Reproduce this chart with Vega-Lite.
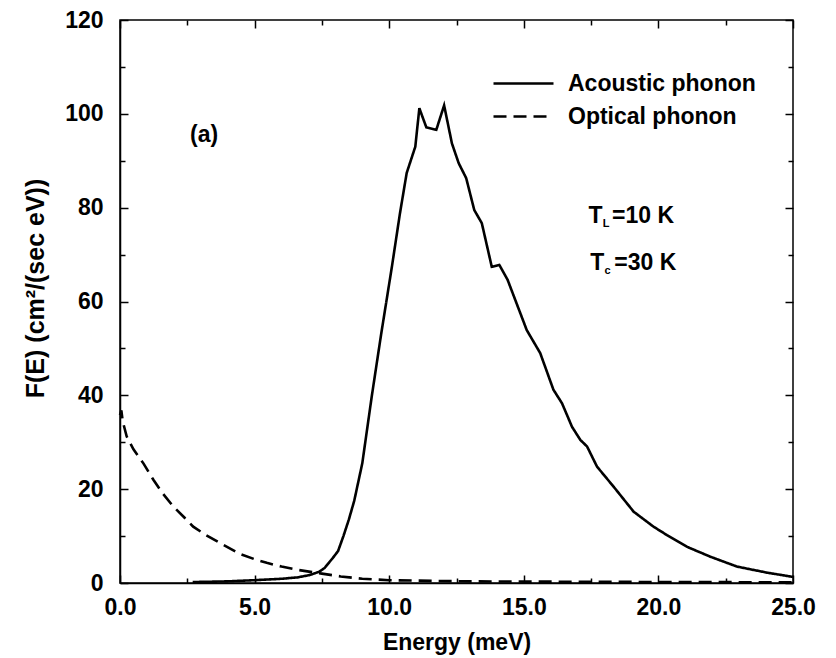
{
  "$schema": "https://vega.github.io/schema/vega-lite/v6.json",
  "autosize": "none",
  "width": 673,
  "height": 563,
  "padding": {"left": 120, "top": 20, "right": 43, "bottom": 75},
  "background": "white",
  "config": {
    "view": {"stroke": "black", "strokeWidth": 1.5},
    "font": "Liberation Sans",
    "axis": {
      "grid": false,
      "domainColor": "black",
      "domainWidth": 1.5,
      "tickColor": "black",
      "tickWidth": 1.5,
      "labelFont": "Liberation Sans",
      "labelFontWeight": "bold",
      "labelFontSize": 23,
      "labelColor": "black",
      "titleFont": "Liberation Sans",
      "titleFontWeight": "bold",
      "titleFontSize": 23,
      "titleColor": "black"
    },
    "legend": {
      "labelFont": "Liberation Sans",
      "labelFontWeight": "bold",
      "labelFontSize": 23,
      "labelColor": "black"
    }
  },
  "data": {
    "values": [
      {"E": 2.7, "F": 0.2, "series": "Acoustic phonon"},
      {"E": 4.0, "F": 0.35, "series": "Acoustic phonon"},
      {"E": 5.0, "F": 0.6, "series": "Acoustic phonon"},
      {"E": 6.0, "F": 0.9, "series": "Acoustic phonon"},
      {"E": 6.6, "F": 1.2, "series": "Acoustic phonon"},
      {"E": 7.05, "F": 1.7, "series": "Acoustic phonon"},
      {"E": 7.4, "F": 2.4, "series": "Acoustic phonon"},
      {"E": 7.6, "F": 3.2, "series": "Acoustic phonon"},
      {"E": 7.9, "F": 5.3, "series": "Acoustic phonon"},
      {"E": 8.1, "F": 6.8, "series": "Acoustic phonon"},
      {"E": 8.3, "F": 10.0, "series": "Acoustic phonon"},
      {"E": 8.5, "F": 13.5, "series": "Acoustic phonon"},
      {"E": 8.7, "F": 17.5, "series": "Acoustic phonon"},
      {"E": 9.0, "F": 25.5, "series": "Acoustic phonon"},
      {"E": 9.35, "F": 39.7, "series": "Acoustic phonon"},
      {"E": 9.7, "F": 53.0, "series": "Acoustic phonon"},
      {"E": 10.1, "F": 67.4, "series": "Acoustic phonon"},
      {"E": 10.4, "F": 78.8, "series": "Acoustic phonon"},
      {"E": 10.65, "F": 87.4, "series": "Acoustic phonon"},
      {"E": 10.97, "F": 93.0, "series": "Acoustic phonon"},
      {"E": 11.12, "F": 101.2, "series": "Acoustic phonon"},
      {"E": 11.38, "F": 97.1, "series": "Acoustic phonon"},
      {"E": 11.75, "F": 96.6, "series": "Acoustic phonon"},
      {"E": 12.04, "F": 101.8, "series": "Acoustic phonon"},
      {"E": 12.33, "F": 93.7, "series": "Acoustic phonon"},
      {"E": 12.58, "F": 89.5, "series": "Acoustic phonon"},
      {"E": 12.86, "F": 86.3, "series": "Acoustic phonon"},
      {"E": 13.16, "F": 79.5, "series": "Acoustic phonon"},
      {"E": 13.44, "F": 76.7, "series": "Acoustic phonon"},
      {"E": 13.81, "F": 67.4, "series": "Acoustic phonon"},
      {"E": 14.09, "F": 67.8, "series": "Acoustic phonon"},
      {"E": 14.4, "F": 64.6, "series": "Acoustic phonon"},
      {"E": 15.11, "F": 53.9, "series": "Acoustic phonon"},
      {"E": 15.61, "F": 49.0, "series": "Acoustic phonon"},
      {"E": 16.1, "F": 41.2, "series": "Acoustic phonon"},
      {"E": 16.42, "F": 38.3, "series": "Acoustic phonon"},
      {"E": 16.79, "F": 33.3, "series": "Acoustic phonon"},
      {"E": 17.1, "F": 30.5, "series": "Acoustic phonon"},
      {"E": 17.35, "F": 29.1, "series": "Acoustic phonon"},
      {"E": 17.72, "F": 24.8, "series": "Acoustic phonon"},
      {"E": 18.34, "F": 20.5, "series": "Acoustic phonon"},
      {"E": 19.08, "F": 15.2, "series": "Acoustic phonon"},
      {"E": 19.82, "F": 12.0, "series": "Acoustic phonon"},
      {"E": 20.32, "F": 10.2, "series": "Acoustic phonon"},
      {"E": 21.07, "F": 7.7, "series": "Acoustic phonon"},
      {"E": 21.93, "F": 5.6, "series": "Acoustic phonon"},
      {"E": 22.92, "F": 3.5, "series": "Acoustic phonon"},
      {"E": 24.04, "F": 2.2, "series": "Acoustic phonon"},
      {"E": 25.0, "F": 1.3, "series": "Acoustic phonon"},
      {"E": 0.0, "F": 35.8, "series": "Optical phonon"},
      {"E": 0.05, "F": 36.8, "series": "Optical phonon"},
      {"E": 0.1, "F": 34.5, "series": "Optical phonon"},
      {"E": 0.25, "F": 31.2, "series": "Optical phonon"},
      {"E": 0.5, "F": 28.5, "series": "Optical phonon"},
      {"E": 0.87, "F": 25.5, "series": "Optical phonon"},
      {"E": 1.24, "F": 22.0, "series": "Optical phonon"},
      {"E": 1.6, "F": 19.0, "series": "Optical phonon"},
      {"E": 1.98, "F": 16.3, "series": "Optical phonon"},
      {"E": 2.4, "F": 13.9, "series": "Optical phonon"},
      {"E": 2.72, "F": 12.0, "series": "Optical phonon"},
      {"E": 3.2, "F": 10.2, "series": "Optical phonon"},
      {"E": 3.72, "F": 8.5, "series": "Optical phonon"},
      {"E": 4.46, "F": 6.2, "series": "Optical phonon"},
      {"E": 5.08, "F": 4.9, "series": "Optical phonon"},
      {"E": 5.45, "F": 4.3, "series": "Optical phonon"},
      {"E": 6.0, "F": 3.5, "series": "Optical phonon"},
      {"E": 6.6, "F": 2.8, "series": "Optical phonon"},
      {"E": 7.5, "F": 2.0, "series": "Optical phonon"},
      {"E": 8.2, "F": 1.4, "series": "Optical phonon"},
      {"E": 9.0, "F": 0.9, "series": "Optical phonon"},
      {"E": 10.0, "F": 0.6, "series": "Optical phonon"},
      {"E": 11.6, "F": 0.45, "series": "Optical phonon"},
      {"E": 13.0, "F": 0.35, "series": "Optical phonon"},
      {"E": 15.0, "F": 0.3, "series": "Optical phonon"},
      {"E": 18.0, "F": 0.25, "series": "Optical phonon"},
      {"E": 21.0, "F": 0.2, "series": "Optical phonon"},
      {"E": 25.0, "F": 0.15, "series": "Optical phonon"}
    ]
  },
  "layer": [
    {
      "mark": {"type": "line", "color": "black", "strokeWidth": 2.6},
      "encoding": {
        "x": {
          "field": "E", "type": "quantitative",
          "scale": {"domain": [0, 25], "nice": false, "zero": false},
          "axis": {
            "orient": "bottom",
            "title": "Energy (meV)",
            "titlePadding": 12,
            "values": [0, 5, 10, 15, 20, 25],
            "format": ".1f",
            "ticks": false,
            "labelPadding": 13,
            "labelFlush": false
          }
        },
        "y": {
          "field": "F", "type": "quantitative",
          "scale": {"domain": [0, 120], "nice": false},
          "axis": {
            "orient": "left",
            "title": "F(E) (cm²/(sec eV))",
            "titleFontSize": 25,
            "titlePadding": 16,
            "titleY": 268,
            "values": [0, 20, 40, 60, 80, 100, 120],
            "ticks": false,
            "labelPadding": 17
          }
        },
        "strokeDash": {
          "field": "series", "type": "nominal",
          "scale": {"domain": ["Acoustic phonon", "Optical phonon"], "range": [[1, 0], [13, 7]]},
          "legend": {
            "title": null,
            "orient": "none",
            "legendX": 392,
            "legendY": 52,
            "symbolType": "M-3,0H3",
            "symbolSize": 400,
            "symbolStrokeWidth": 2.5,
            "symbolStrokeColor": "black",
            "symbolFillColor": "transparent",
            "labelFontWeight": "bold",
            "labelLimit": 400,
            "labelOffset": 33,
            "rowPadding": 9
          }
        }
      }
    },
    {
      "mark": {"type": "line", "opacity": 0},
      "encoding": {
        "x": {
          "field": "E", "type": "quantitative",
          "axis": {"orient": "top", "offset": -563, "title": null, "labels": false, "domain": false, "values": [0, 5, 10, 15, 20, 25], "tickSize": 8}
        },
        "y": {
          "field": "F", "type": "quantitative",
          "axis": {"orient": "right", "offset": -673, "title": null, "labels": false, "domain": false, "values": [0, 20, 40, 60, 80, 100, 120], "tickSize": 8}
        },
        "detail": {"field": "series"}
      }
    },
    {
      "mark": {"type": "line", "opacity": 0},
      "encoding": {
        "x": {
          "field": "E", "type": "quantitative",
          "axis": {"orient": "bottom", "offset": -563, "title": null, "labels": false, "domain": false, "values": [0, 5, 10, 15, 20, 25], "tickSize": 8}
        },
        "y": {
          "field": "F", "type": "quantitative",
          "axis": {"orient": "left", "offset": -673, "title": null, "labels": false, "domain": false, "values": [0, 20, 40, 60, 80, 100, 120], "tickSize": 8}
        },
        "detail": {"field": "series"}
      }
    },
    {
      "mark": {"type": "line", "opacity": 0},
      "encoding": {
        "x": {
          "field": "E", "type": "quantitative",
          "axis": {"orient": "top", "offset": -563, "title": null, "labels": false, "domain": false, "values": [2.5, 7.5, 12.5, 17.5, 22.5], "tickSize": 5}
        },
        "y": {
          "field": "F", "type": "quantitative",
          "axis": {"orient": "right", "offset": -673, "title": null, "labels": false, "domain": false, "values": [10, 30, 50, 70, 90, 110], "tickSize": 5}
        },
        "detail": {"field": "series"}
      }
    },
    {
      "mark": {"type": "line", "opacity": 0},
      "encoding": {
        "x": {
          "field": "E", "type": "quantitative",
          "axis": {"orient": "bottom", "offset": -563, "title": null, "labels": false, "domain": false, "values": [2.5, 7.5, 12.5, 17.5, 22.5], "tickSize": 5}
        },
        "y": {
          "field": "F", "type": "quantitative",
          "axis": {"orient": "left", "offset": -673, "title": null, "labels": false, "domain": false, "values": [10, 30, 50, 70, 90, 110], "tickSize": 5}
        },
        "detail": {"field": "series"}
      }
    },
    {
      "data": {"values": [{}]},
      "mark": {"type": "text", "text": "(a)", "font": "Liberation Sans", "fontWeight": "bold", "fontSize": 23, "align": "left", "baseline": "middle", "color": "black"},
      "encoding": {"x": {"datum": 2.6, "type": "quantitative", "axis": null}, "y": {"datum": 95.5, "type": "quantitative", "axis": null}}
    },
    {
      "data": {"values": [{}]},
      "mark": {"type": "text", "text": "T", "font": "Liberation Sans", "fontWeight": "bold", "fontSize": 23, "align": "left", "baseline": "middle", "color": "black"},
      "encoding": {"x": {"datum": 17.4, "type": "quantitative", "axis": null}, "y": {"datum": 78.3, "type": "quantitative", "axis": null}}
    },
    {
      "data": {"values": [{}]},
      "mark": {"type": "text", "text": "L", "font": "Liberation Sans", "fontWeight": "bold", "fontSize": 11, "align": "left", "baseline": "middle", "color": "black"},
      "encoding": {"x": {"datum": 17.93, "type": "quantitative", "axis": null}, "y": {"datum": 76.6, "type": "quantitative", "axis": null}}
    },
    {
      "data": {"values": [{}]},
      "mark": {"type": "text", "text": "=10 K", "font": "Liberation Sans", "fontWeight": "bold", "fontSize": 23, "align": "left", "baseline": "middle", "color": "black"},
      "encoding": {"x": {"datum": 18.28, "type": "quantitative", "axis": null}, "y": {"datum": 78.3, "type": "quantitative", "axis": null}}
    },
    {
      "data": {"values": [{}]},
      "mark": {"type": "text", "text": "T", "font": "Liberation Sans", "fontWeight": "bold", "fontSize": 23, "align": "left", "baseline": "middle", "color": "black"},
      "encoding": {"x": {"datum": 17.47, "type": "quantitative", "axis": null}, "y": {"datum": 68.3, "type": "quantitative", "axis": null}}
    },
    {
      "data": {"values": [{}]},
      "mark": {"type": "text", "text": "c", "font": "Liberation Sans", "fontWeight": "bold", "fontSize": 11, "align": "left", "baseline": "middle", "color": "black"},
      "encoding": {"x": {"datum": 18.0, "type": "quantitative", "axis": null}, "y": {"datum": 66.6, "type": "quantitative", "axis": null}}
    },
    {
      "data": {"values": [{}]},
      "mark": {"type": "text", "text": "=30 K", "font": "Liberation Sans", "fontWeight": "bold", "fontSize": 23, "align": "left", "baseline": "middle", "color": "black"},
      "encoding": {"x": {"datum": 18.36, "type": "quantitative", "axis": null}, "y": {"datum": 68.3, "type": "quantitative", "axis": null}}
    }
  ],
  "resolve": {"axis": {"x": "independent", "y": "independent"}}
}
